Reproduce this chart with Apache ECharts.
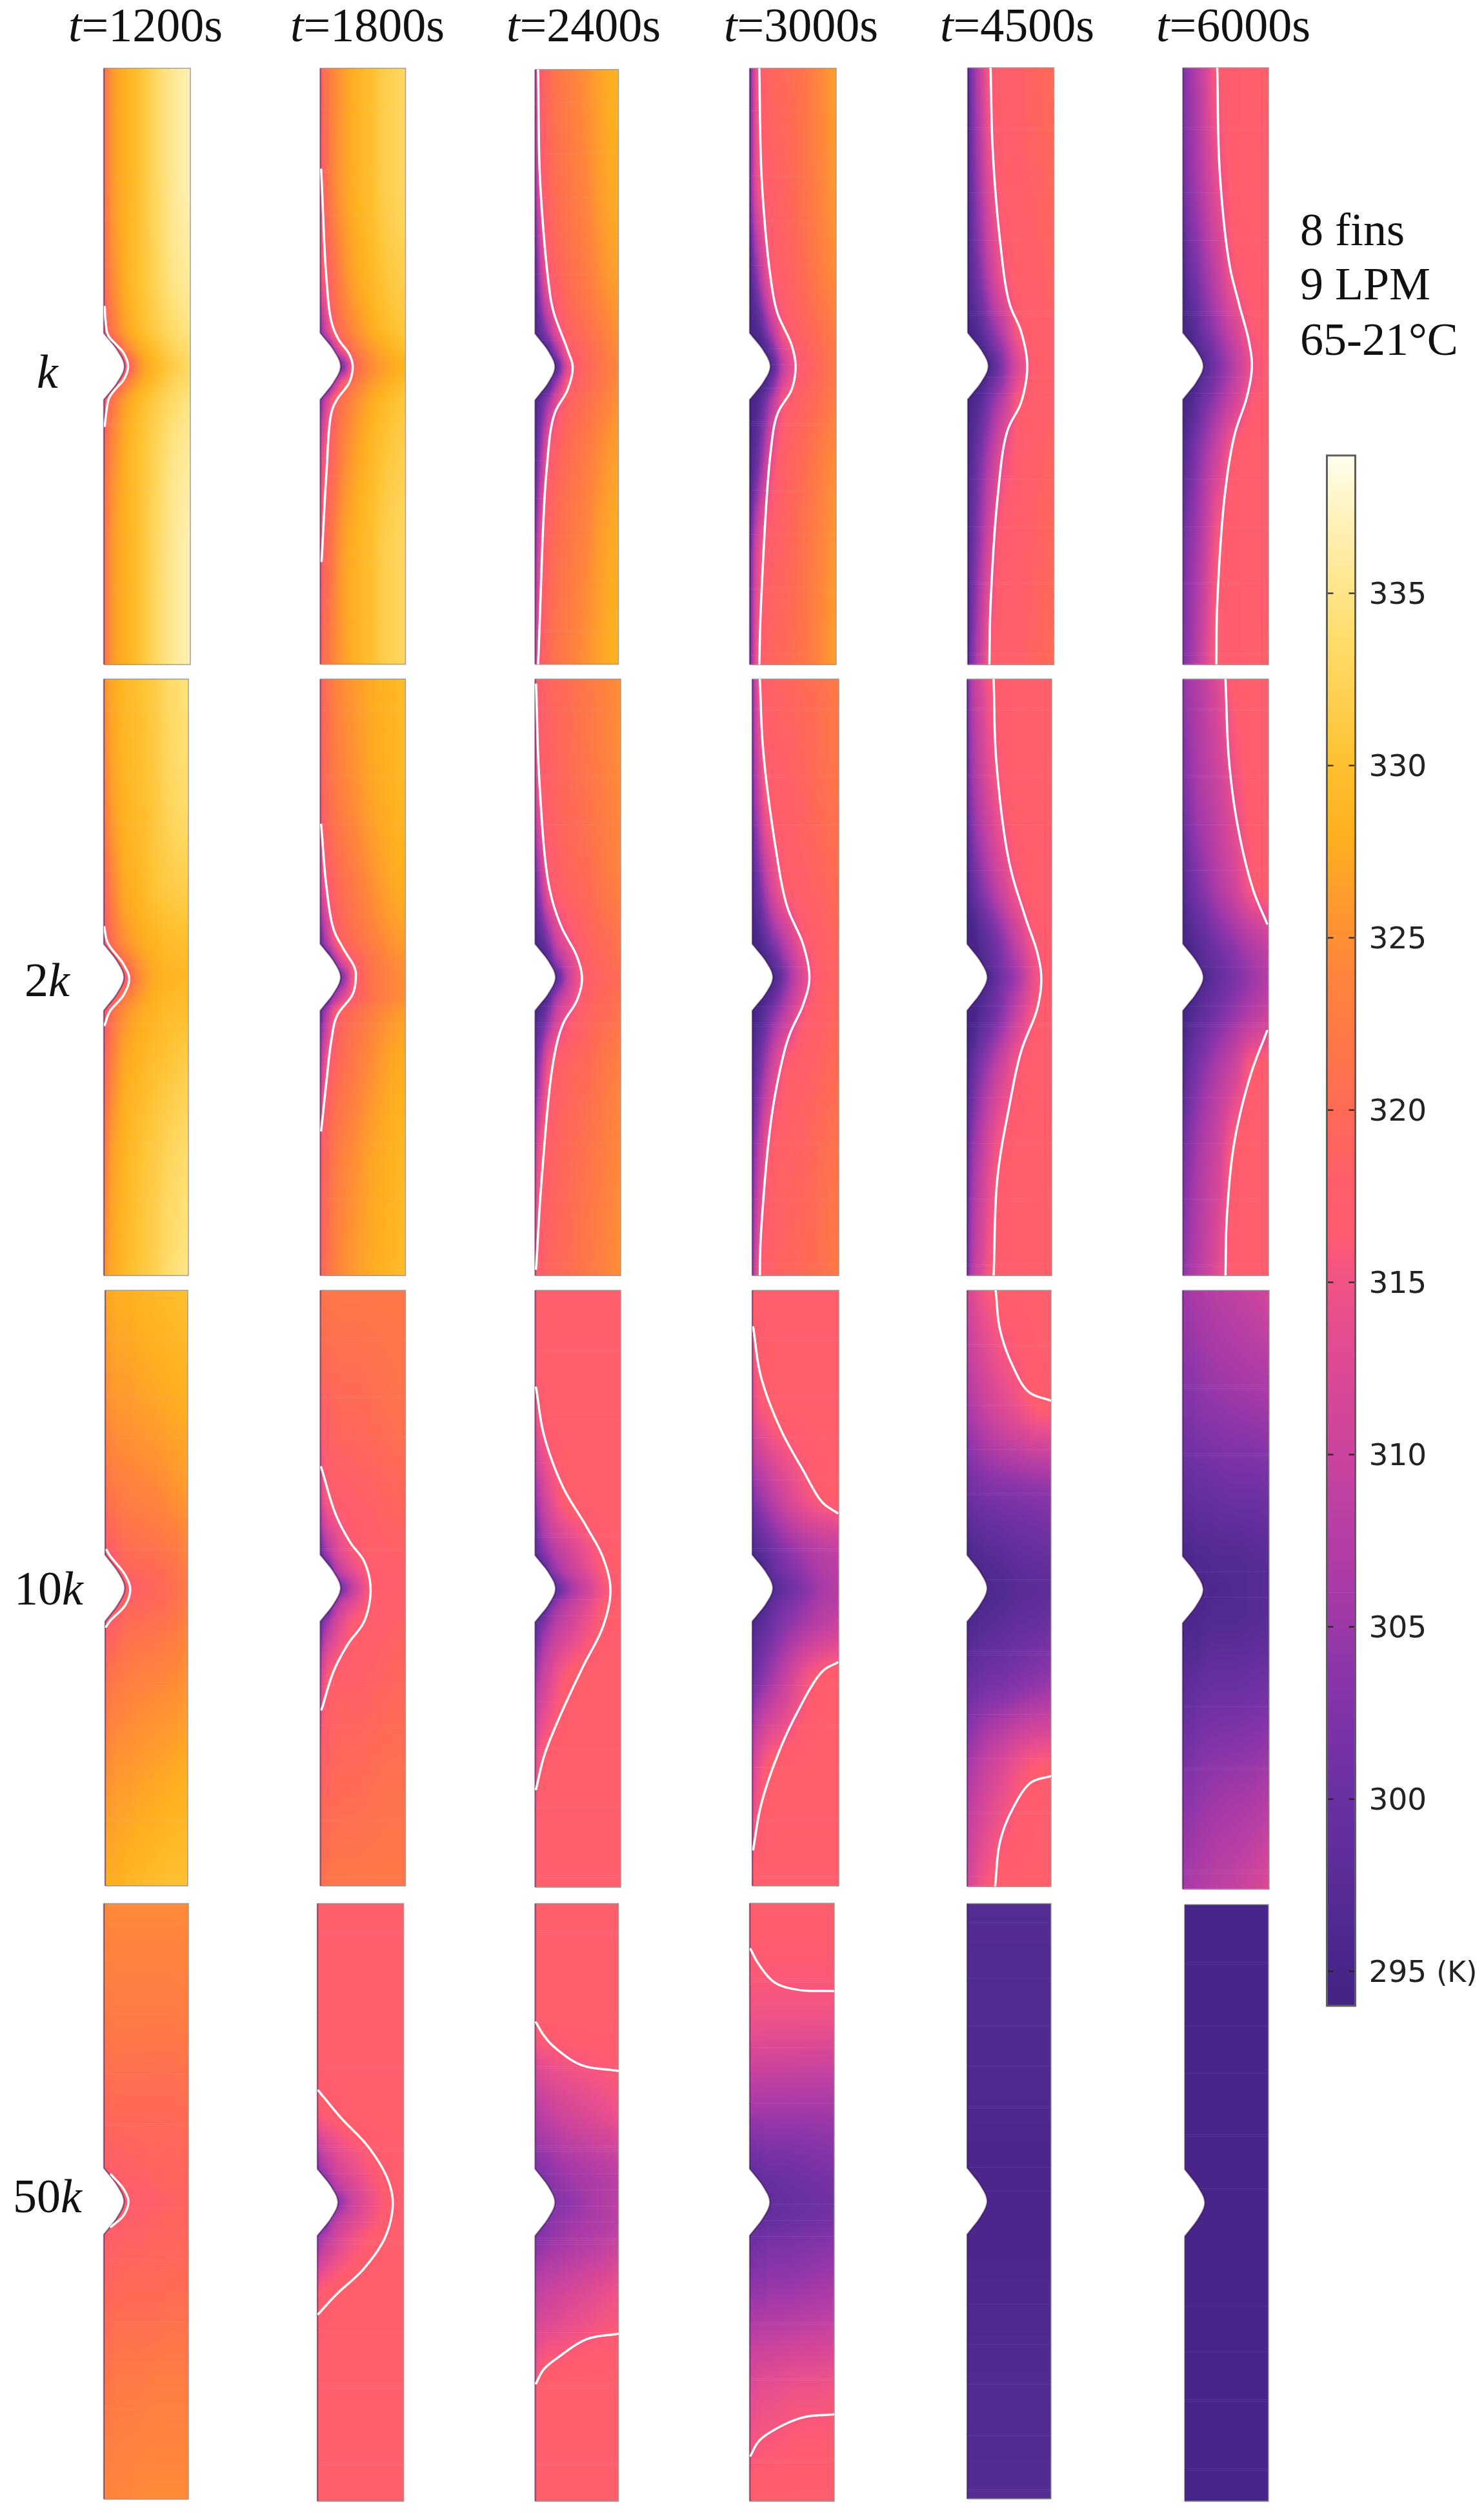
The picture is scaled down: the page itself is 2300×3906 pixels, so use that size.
<!DOCTYPE html>
<html><head><meta charset="utf-8">
<style>html,body{margin:0;padding:0;background:#fff}#c{width:2300px;height:3906px}</style>
<script src="https://cdn.jsdelivr.net/npm/echarts@6/dist/echarts.min.js"></script>
</head><body><div id="c"></div>
<script>
// ---- labels ----
const timeLabels = ['1200','1800','2400','3000','4500','6000'];
const rowLabels = ['k','2k','10k','50k'];
const noteLines = ['8 fins','9 LPM','65-21°C'];
const barTicks = [295,300,305,310,315,320,325,330,335];
// ---- colour scale (K -> colour) ----
const cmapT = [294,295,296.5,298,300,302,304,306,308,310,312,314,315.5,316.5,318,320,322,324,326,328,330,332,334,336,338,339];
const cmapC = ['#452382','#482588','#502b90','#5c2d98','#6a30a0','#7a33a6','#8f36a9','#a83aa8','#b93fa4','#ca449e','#d84896','#e84e8e','#f5557f','#ff5c70','#ff5f68','#ff6a55','#ff7748','#ff853b','#ff9a2e','#ffb020','#ffc030','#ffd050','#ffdf72','#ffea9e','#fff7d0','#fffff0'];
// ---- sampling positions of the temperature tables (% of width, % of height) ----
const X = [0,8,16,25,40,60,80,100];
const Y = [0,18,34,44,47,50,53,56,66,82,100];
// ---- notch outline (% of width, % of height) ----
const notch = [[0,44.4],[4,45.1],[8,45.8],[12,46.5],[15,47.1],[18,47.8],[20.5,48.4],[22.5,49],[23.5,49.5],[24,50],[23.5,50.5],[22.5,51],[20.5,51.6],[18,52.2],[15,52.9],[12,53.5],[8,54.2],[4,54.9],[0,55.6]];

// ---- temperature readings, K ----
const T_k_1200=[[321,325,327,328,330,333,335.5,337],[321,325,327,328,330,333,335.5,337],[320,324,326,328,330,332.5,335,336],[317,321,324,326.5,329,331.5,333.5,335],[317,317,319,323,327,330,332.5,334],[317,317,317,317,325,329,331.5,333.5],[317,317,319,323,327,330,332.5,334],[317,321,324,326.5,329,331.5,333.5,335],[320,324,326,328,330,332.5,335,336],[321,325,327,328,330,333,335.5,337],[321,325,327,328,330,333,335.5,337]];
const T_k_1800=[[319,322,324,326,328,330,332,333],[317,321,324,326,328,330,332,333],[315.5,318,321,324,327,329,331,332],[303,312,318,321,324.5,327.5,329.5,331],[300,300,308,316,322,326,328,330],[300,300,300,302,319,324.5,327,328.5],[300,300,308,316,322,326,328,330],[303,312,318,321,324.5,327.5,329.5,331],[313,317.5,320,323.5,326.5,329,331,332],[317,320,323,326,328,330,332,333],[319,322,324,326,328,330,332,333]];
const T_k_2400=[[312,318,320,321.5,323,325,327,328.5],[307,316.5,319,320.5,322,324,326.5,328],[298,310,316.5,318.5,320.5,322.5,325,327],[296,300,306,313,318.5,320.5,323,325.5],[296,296,298,306,317,319.5,322,325],[296,296,296,298,314,319,321.5,324.5],[296,296,298,306,317,319.5,322,325],[296,300,306,313,318.5,320.5,323,325.5],[298,308,316.5,318.5,320.5,322.5,325,327],[305,316,319,320.5,322,324,326.5,328],[312,318,320,321.5,323,325,327,328.5]];
const T_k_3000=[[301,315,318,319,320,321.5,324,326.5],[302,314,316.8,318,319,321,323.5,326],[296,304,311,316.5,318,320,322.5,325],[295,296,300,307,316,318.5,320.5,323],[295,295,296,301,313,317.5,320,322.5],[295,295,295,297,310,317,319.5,322],[295,295,296,301,313,317.5,320,322.5],[295,296,300,307,316,318.5,320.5,323],[295,300,307,314,318,320,322.5,325],[300,312,316.5,318,319,321,323.5,326],[301,315,318,319,320,321.5,324,326.5]];
const T_k_4500=[[298,305,311,316.5,317.5,318,319,320],[297,303,308,313.5,317,318,318.5,319.5],[296,300,304,309,315,317.5,318,319],[295,296,298,302,308,316.5,317.5,318],[295,295,296,299,305,314.5,317.5,318],[295,295,295,296,303,313,317,318],[295,295,296,299,305,314.5,317.5,318],[295,296,298,302,308,316.5,317.5,318],[296,299,303,307.5,314,317,318,319],[297,302,307,312.5,317,317.5,318.5,319.5],[298,305,311,316.5,317.5,318,319,320]];
const T_k_6000=[[303,305,307.5,311,316.5,317,317.5,318],[301,304,306,309,314,317,317.5,317.5],[296,300,302,305,309.5,316,317,317.5],[295,296,298,301,305,311,316,317],[295,295,296.5,299,303,309,315,317],[295,295,295,297,302,308,314.5,317],[295,295,296.5,299,303,309,315,317],[295,296,298,301,305,311,316,317],[297,300,303,306,311,317,317.5,317.5],[301,304,306,309.5,316,317,317.5,317.5],[303,305,308,312,316.5,317,317.5,318]];
const T_2k_1200=[[325,327,328,329,330,331.5,333.5,334.5],[323,326,327.5,328.5,329.5,331,333,334],[319,323,325.5,327.5,328.5,330.5,331.5,332],[317,320,323,325,327,328.5,329.5,330],[317,317,319,322,325.5,328,329,329.5],[317,317,317,317,324,327.5,328.5,329],[317,317,319,322,325.5,328,329,329.5],[317,320,323,325,327,328.5,329.5,330],[319,323,325.5,327.5,328.5,330,331,332],[322,326,327.5,328.5,330,331.5,333,334],[325,327,328,329,330.5,332,334,335]];
const T_2k_1800=[[319,321,323,324.5,326,327.5,328.5,329.5],[318,320.5,322,323.5,325,327,328,329],[312,316.5,319,320.5,322.5,325,327,328],[300,308,315,318.5,320.5,323,325,326.5],[298,298,305,313,318,321.5,324,325.5],[298,298,298,302,317,321,323.5,325],[298,298,305,311,317.5,321,323.5,325],[300,308,315.5,318.5,320.5,323,325,326.5],[309,316.5,319,320.5,322.5,325,327,328],[318,320,322,323.5,325,327,328,329],[319,321,323,324.5,326,327.5,328.5,329.5]];
const T_2k_2400=[[317,318,319,319.5,320.5,322,323.5,325],[313,317,318,319,320,321.5,323,324.5],[300,309,316,317.5,319,320,322,323.5],[296,298,303,310,315,318.5,320,321.5],[295,295,298,305,312,318,319.5,321],[295,295,295,298,310,317.5,319,320.5],[295,295,298,305,312,318,319.5,321],[296,298,303,310,315,318.5,320,321.5],[300,309,316,317.5,319,320,322,323.5],[312,317,318,319,320,321.5,323,324.5],[317,318,319,319.5,320.5,322,323.5,325]];
const T_2k_3000=[[305,316,318,318.5,319,320,321,322.5],[302,311,316.5,317.5,318,319,320.5,321.5],[297,302,308,313,317,318,319,320.5],[295,296,299,303,309,316,318,319.5],[295,295,296,299,306,314,318,319],[295,295,295,296,304,313,317.5,319],[295,295,296,299,306,314,318,319],[295,296,299,303,309,316,318,319.5],[297,302,307,312,317,318,319,320.5],[302,310,315.5,318,318.5,319,320.5,321.5],[306,316,318,318.5,319,320,321,322.5]];
const T_2k_4500=[[302,309,312,315.5,317,317.5,318,318],[300,306,309,312.5,316,317.5,317.5,318],[296,300,303,306,311,316,317.5,317.5],[295,295,297,299,303,310,316,317.5],[295,295,296,298,302,308,315,317.5],[295,295,295,296,301,306,314.5,317.5],[295,295,296,298,302,308,315,317.5],[295,295,297,299,303,310,316,317.5],[296,300,303,306,311,316,317.5,317.5],[300,306,309,313,316.5,317.5,317.5,318],[302,309,312,315.5,317,317.5,318,318]];
const T_2k_6000=[[304,306,307,309,312.5,317,317.5,317.5],[302,304,306,307.5,310,314.5,317,317.5],[297,300,302,304,307,311,316,317.5],[295,296,297.5,299,301.5,304.5,307.5,310],[295,295,296,298,300,303,306,308.5],[295,295,295,296,299,302,305,307.5],[295,295,296,298,300,303,306,308.5],[295,296,297.5,299,301.5,304.5,307.5,310],[297,300,302,304,307,311,316.5,317.5],[302,304,306,308,311,317,317.5,317.5],[304,306,307.5,309.5,313,317,317.5,317.5]];
const T_10k_1200=[[327,327.5,328,328,328.5,329,329.5,330],[325,325.5,326,326,326.5,327,327.5,328],[321,322,322.5,323,323.5,324,325,326],[317.5,318,319,320,320.5,321,322,323.5],[317,317,318,319,319.5,320,321,323],[317,317,317,317,318.5,319.5,320.5,322.5],[317,317,318,319,319.5,320,321,323],[317.5,318,319,320,320.5,321,322,323.5],[321,322,322.5,323,323.5,324,324.5,325.5],[325,325.5,326,326,326.5,327,327.5,328],[328,328,328,328.5,329,329.5,330,330]];
const T_10k_1800=[[321.5,322,322,322,322,322,322,322],[318.5,319,319.5,320,320,320.5,321,321.5],[312,316.5,317,317.5,318,318.5,319,319.5],[300,306,310,313.5,316,317.5,318,318.5],[298,298,305,310,314,317,317.5,318],[298,298,298,302,310,316.5,317.5,318],[298,298,305,310,314,317,317.5,318],[300,306,310,313.5,316.5,317.5,318,318.5],[312,316.5,317.5,318,318,318.5,319,319.5],[318.5,319,319.5,320,320,320.5,321,321],[321,321.5,322,322,322,322,322,322]];
const T_10k_2400=[[317.5,317.5,317.5,317.5,317.5,317.5,317.5,317.5],[316,317,317.5,317.5,317.5,317.5,317.5,317.5],[305,310,313,315.5,317.5,317.5,317.5,317.5],[298,302,305,308,311,314.5,316.8,317.5],[297,297,301,305,309,313,316.5,317.5],[297,297,297,299.5,305,310.5,315.5,317.5],[297,297,301,305,309,313,316.5,317.5],[298,302,305,308,311,314.5,316.8,317.5],[306,310,312.5,315,317,317.5,317.5,317.5],[315,317,317.5,317.5,317.5,317.5,317.5,317.5],[317.5,317.5,317.5,317.5,317.5,317.5,317.5,317.5]];
const T_10k_3000=[[317.5,317.5,317.5,317.5,317.5,317.5,317.5,317.5],[313,316,316.5,317.5,317.5,317.5,317.5,317.5],[303,305,307,309,312,315,316.7,317.5],[296,297.5,299,301,303.5,306,308,309],[295,295,297,299.5,302,304.5,307,308],[295,295,295,297,300,303,306,307.5],[295,295,297,299.5,302,304.5,307,308],[296,297.5,299,301,303.5,306,308.5,310],[301,303,305,307,310.5,315,317,317.5],[312,315,316.8,317.5,317.5,317.5,317.5,317.5],[317.5,317.5,317.5,317.5,317.5,317.5,317.5,317.5]];
const T_10k_4500=[[312,313,315,316,317.5,317.5,317.5,317.5],[307,308,309.5,311,313,315,316.7,317.2],[300,301,301.5,302,302.5,303,303.5,304],[296,296.5,297,297.5,298,299,299.5,300],[295.5,295.5,296,296.5,297,298,298.5,299],[295.5,295.5,295.5,296,296.5,297.5,298,298.5],[295.5,295.5,296,296.5,297,298,298.5,299.5],[296,296.5,297,297.5,298,299,299.5,300.5],[300,300.5,301,301.5,302,303,304,305],[307,308,309.5,311,313,315.5,316.8,317.2],[312,313,315,316,317.5,317.5,317.5,317.5]];
const T_10k_6000=[[305.5,306,306.5,307,308,309,310,311],[303,303,303.5,304,304.5,305,305.5,306],[299,299,299.5,299.5,300,300.5,300.5,301],[296,296,296.5,296.5,297,297,297.5,298],[295.5,295.5,296,296,296.5,296.5,297,297.5],[295.5,295.5,295.5,296,296,296.5,297,297.5],[295.5,295.5,296,296,296.5,296.5,297,297.5],[295.5,296,296,296.5,297,297,297.5,298],[298,298.5,299,299.5,300,300,300.5,301],[303,303,303.5,304,304.5,305,305.5,306.5],[306,306.5,307,307.5,308.5,309.5,311,312.5]];
const T_50k_1200=[[324.5,324.5,324.5,324.5,324.5,324.5,324.5,324.5],[322.5,322.5,322.5,322.5,322.5,322.5,322.5,323],[319.5,320,320,320,320,320,320,320.5],[317.5,318,318,318.5,318.5,319,319,319.5],[317,317,317.5,318,318,318.5,319,319],[317,317,317,317,317.5,318,318.5,319],[317,317,317.5,318,318,318.5,319,319],[317.5,318,318,318.5,318.5,319,319,319.5],[319.5,319.5,320,320,320,320,320.5,320.5],[322,322,322.5,322.5,322.5,323,323,323],[324,324,324,324,324.5,324.5,324.5,324.5]];
const T_50k_1800=[[317.5,317.5,317.5,317.5,317.5,317.5,317.5,317.5],[317.5,317.5,317.5,317.5,317.5,317.5,317.5,317.5],[316.5,316.8,317,317.2,317.5,317.5,317.5,317.5],[304,307,309.5,312,314,316,316.9,317.5],[302,302,306,309,312,315,316.8,317.5],[302,302,302,304,310,314,316.6,317.5],[302,302,306,309,312,315,316.8,317.5],[304,307,309.5,312,314.5,316.5,317.2,317.5],[316.5,316.9,317.2,317.5,317.5,317.5,317.5,317.5],[317.5,317.5,317.5,317.5,317.5,317.5,317.5,317.5],[317.5,317.5,317.5,317.5,317.5,317.5,317.5,317.5]];
const T_50k_2400=[[317.5,317.5,317.5,317.5,317.5,317.5,317.5,317.5],[317.5,317.5,317.5,317.5,317.5,317.5,317.5,317.5],[308,309,310,311,312,313,314,315],[303,303.5,304,305,306,307,308,309],[302,302,303,304,305,306,307,308],[302,302,302,303,304,305.5,307,308],[302,302,303,304,305,306,307,308],[303,303.5,304.5,305,306,307,308,309.5],[309,310,310.5,311,312,313,314,315],[316.5,317,317.5,317.5,317.5,317.5,317.5,317.5],[317.5,317.5,317.5,317.5,317.5,317.5,317.5,317.5]];
const T_50k_3000=[[317.5,317.5,317.5,317.5,317.5,317.5,317.5,317.5],[315,315,315,315,315,315,315,315],[306,306,306,306,306,306,306,306],[299.5,300,300.5,301,301,301.5,302,302.5],[298.5,298.5,299,299.5,300,300.5,301,301.5],[298.5,298.5,298.5,299,299.5,300,300.5,301],[298.5,298.5,299,299.5,300,300.5,301,301.5],[300,300.5,301,301.5,301.5,302,302.5,303],[304.5,305,305,305.5,305.5,306,306.5,307],[313,313.5,314,314,314.5,315,315,315.5],[317.5,317.5,317.5,317.5,317.5,317.5,317.5,317.5]];
const T_50k_4500=[[297,297,297,297,297,297,297,297],[296.5,296.5,296.5,296.5,296.5,296.5,296.5,296.5],[296,296,296,296,296,296,296,296],[295.5,295.5,295.5,295.5,295.5,295.5,295.5,295.5],[295.5,295.5,295.5,295.5,295.5,295.5,295.5,295.5],[295.5,295.5,295.5,295.5,295.5,295.5,295.5,295.5],[295.5,295.5,295.5,295.5,295.5,295.5,295.5,295.5],[295.5,295.5,295.5,295.5,295.5,295.5,295.5,295.5],[296,296,296,296,296,296,296,296],[296.5,296.5,296.5,296.5,296.5,296.5,296.5,296.5],[297,297,297,297,297,297,297,297]];
const T_50k_6000=[[295,295,295,295,295,295,295,295],[295,295,295,295,295,295,295,295],[295,295,295,295,295,295,295,295],[295,295,295,295,295,295,295,295],[295,295,295,295,295,295,295,295],[295,295,295,295,295,295,295,295],[295,295,295,295,295,295,295,295],[295,295,295,295,295,295,295,295],[295,295,295,295,295,295,295,295],[295,295,295,295,295,295,295,295],[295,295,295,295,295,295,295,295]];

// ---- white isotherm traces (% of width, % of height) ----
const C_k_1200=[[[1,40],[2,42.5],[5,44.8],[14,46.3],[23,47.8],[28,50],[23,52.2],[14,53.7],[6,55.3],[3,57.5],[1,60]]];
const C_k_1800=[[[1,17],[7,35],[13,42.5],[21,45.4],[34,48],[38,50],[34,52.7],[19.5,55.6],[13,57.8],[7,68.3],[1.5,82.7]]];
const C_k_2400=[[[3.5,0],[6,19],[16.5,36.4],[22,40.7],[39,47.2],[45,50],[39,53.8],[23,58],[13.6,67.5],[3.5,100]]];
const C_k_3000=[[[11,0],[14,19],[24,35],[32,41],[48.6,46.5],[53,50],[48.6,53.8],[32,58],[24,64.6],[13,90],[11,100]]];
const C_k_4500=[[[26.4,0],[29,14],[37.4,29],[48,39.3],[62,44.3],[69,50],[62,56],[45.6,61],[34.6,72],[26.4,90],[25,100]]];
const C_k_6000=[[[40,0],[43,17.5],[54,32.7],[65,39.3],[77,45.8],[80.6,50],[75,55],[60,61.7],[48.6,72],[40,90],[39,100]]];
const C_2k_1200=[[[0.5,41.6],[4.5,44.2],[23.6,47.9],[30,50.2],[23.6,52.9],[6.7,55.8],[1,58]]];
const C_2k_1800=[[[1,24.4],[7,34.6],[15.5,41.9],[27,45.2],[40.5,48.5],[41.6,50.2],[38,52.8],[19.4,56.5],[13,60.5],[7,67.7],[1,75.7]]];
const C_2k_2400=[[[1,0.9],[5,17.4],[16,34.6],[30,41.3],[49,46.6],[54.7,50.2],[49,53.8],[32.6,57.8],[21.5,63.8],[7.7,83.6],[1,98.9]]];
const C_2k_3000=[[[8.7,0],[12.6,12],[26,27.4],[40,38],[59,44.6],[66,50.2],[59,54.5],[42.6,59.8],[31.7,65.8],[20.8,75],[9.8,93.6],[8.7,100]]];
const C_2k_4500=[[[31.3,0],[34.6,14],[49.7,30.7],[69,40],[83,45.9],[87.7,50.2],[83,55.2],[63.7,62.5],[49.7,71.7],[35.8,83.6],[31.3,100]]];
const C_2k_6000=[[[49.7,0],[54,14],[65,25.4],[82,35.3],[98.3,41]],[[98.3,59],[79,66.4],[60,77.7],[51.4,90],[49.7,100]]];
const C_10k_1200=[[[1.7,43.6],[6,44.6],[24.6,47.9],[30.3,50.2],[24.6,52.8],[6,55.5],[1,56.5]]];
const C_10k_1800=[[[1,29.7],[18,37.6],[35,42.3],[51.7,45.6],[59,50.2],[51.7,55.5],[32,59.5],[15.5,64],[1.5,70.4]]];
const C_10k_2400=[[[1,16.3],[10.5,24.4],[32.6,33],[60,39.6],[79.6,44.9],[88,50.2],[79.6,56.2],[54.7,63.4],[27,72],[10.5,78],[1,83.6]]];
const C_10k_3000=[[[1,6.2],[9.8,14.4],[31.7,23],[59,30.3],[81,35.6],[98.4,37.4]],[[98.4,62.5],[81,64],[48,72],[26,79.3],[9.8,86.6],[1,93.9]]];
const C_10k_4500=[[[34,0],[39,6.5],[53.7,12.5],[73,17],[99.4,18.5]],[[99.4,81.5],[75.7,82.6],[53,87.3],[39,92.6],[33.3,100]]];
const C_10k_6000=[];
const C_50k_1200=[[[8.4,45.5],[23.6,48],[29,50],[23.6,52.3],[8.4,54.3]]];
const C_50k_1800=[[[1,31.3],[27,35.8],[60,40.9],[82,46.3],[87.4,50.3],[79,55.7],[54.4,61],[21.4,65.5],[1,68.7]]];
const C_50k_2400=[[[1,19.9],[10,22],[22,23.9],[55,27],[99.4,28]],[[99.4,72],[62,72.9],[28,75.9],[10,78],[1,80.3]]];
const C_50k_3000=[[[1,7.7],[10.6,10.2],[30,13.3],[58,14.5],[99.4,14.7]],[[99.4,85.5],[63,86],[30,88],[10.6,90],[1,92.4]]];
const C_50k_4500=[];
const C_50k_6000=[];

const fields=[[T_k_1200,T_k_1800,T_k_2400,T_k_3000,T_k_4500,T_k_6000],[T_2k_1200,T_2k_1800,T_2k_2400,T_2k_3000,T_2k_4500,T_2k_6000],[T_10k_1200,T_10k_1800,T_10k_2400,T_10k_3000,T_10k_4500,T_10k_6000],[T_50k_1200,T_50k_1800,T_50k_2400,T_50k_3000,T_50k_4500,T_50k_6000]];
const contours=[[C_k_1200,C_k_1800,C_k_2400,C_k_3000,C_k_4500,C_k_6000],[C_2k_1200,C_2k_1800,C_2k_2400,C_2k_3000,C_2k_4500,C_2k_6000],[C_10k_1200,C_10k_1800,C_10k_2400,C_10k_3000,C_10k_4500,C_10k_6000],[C_50k_1200,C_50k_1800,C_50k_2400,C_50k_3000,C_50k_4500,C_50k_6000]];

// ---- layout (pixels) ----
const panelL=[[161,496.5,829.5,1162,1500,1833.5],[161,496.5,829.5,1166,1499,1833.5],[163,496.5,829.5,1166,1499,1833],[161,492,829.5,1162,1499,1836.5]];
const panelR=[[295,628.5,958.5,1296,1633.5,1966],[292,628.5,962,1300,1630,1966],[291,628.5,962,1300,1629,1967],[292,625.6,958.5,1293,1629,1966]];
const panelT=[[105.8,105.8,107.8,105.8,105,105],[1052.6,1052.6,1052.6,1052.6,1052.6,1052.6],[2000,2000,2000,2000,2000,2000],[2950.5,2950.5,2950.5,2950,2950.5,2952]];
const panelB=[[1030,1029.5,1029.5,1030,1030,1030],[1977,1977,1977,1977,1977,1977],[2923,2923,2925,2923,2924,2928],[3873.6,3876.7,3876.7,3876.7,3873,3876.7]];
const titleLeft=[106,450,785,1122,1457,1792];
const rowLeft=[57,38,22,20];
const rowTop=[545,1488,2431,3373];
const noteTop=[325,409,495];
const serif='"Liberation Serif"';

function hex(c){return [parseInt(c.slice(1,3),16),parseInt(c.slice(3,5),16),parseInt(c.slice(5,7),16)];}
const cmapRGB=cmapC.map(hex);
function colorOf(t){
  if(t<=cmapT[0])return cmapC[0];
  for(let i=1;i<cmapT.length;i++){if(t<=cmapT[i]){const f=(t-cmapT[i-1])/(cmapT[i]-cmapT[i-1]);const a=cmapRGB[i-1],b=cmapRGB[i];
    return 'rgb('+Math.round(a[0]+(b[0]-a[0])*f)+','+Math.round(a[1]+(b[1]-a[1])*f)+','+Math.round(a[2]+(b[2]-a[2])*f)+')';}}
  return cmapC[cmapC.length-1];
}
// shape-preserving drawing interpolation between the read temperatures
function slope(xs,ys,i){
  const n=xs.length;
  if(i===0)return (ys[1]-ys[0])/(xs[1]-xs[0]);
  if(i===n-1)return (ys[n-1]-ys[n-2])/(xs[n-1]-xs[n-2]);
  const a=(ys[i]-ys[i-1])/(xs[i]-xs[i-1]),b=(ys[i+1]-ys[i])/(xs[i+1]-xs[i]);
  return a*b<=0?0:2*a*b/(a+b);
}
function smoothAt(xs,ys,x){
  let i=0;while(i<xs.length-2&&x>xs[i+1])i++;
  const h=xs[i+1]-xs[i],t=(x-xs[i])/h,m0=slope(xs,ys,i),m1=slope(xs,ys,i+1);
  const t2=t*t,t3=t2*t;
  return (2*t3-3*t2+1)*ys[i]+(t3-2*t2+t)*h*m0+(-2*t3+3*t2)*ys[i+1]+(t3-t2)*h*m1;
}
function fieldRenderer(tab){
  return function(params,api){
    const j=api.value(2);
    const p0=api.coord([0,Y[j]]),p1=api.coord([100,Y[j+1]]);
    const w=p1[0]-p0[0],h=p1[1]-p0[1];
    const n=Math.max(1,Math.ceil(h/3)),children=[];
    for(let k=0;k<n;k++){
      const yy=Y[j]+(k+0.5)/n*(Y[j+1]-Y[j]);
      const vals=X.map((_,c)=>smoothAt(Y,tab.map(r=>r[c]),yy));
      const stops=[];
      for(let s=0;s<=40;s++){stops.push({offset:s/40,color:colorOf(smoothAt(X,vals,s*2.5))});}
      children.push({type:'rect',silent:true,shape:{x:p0[0],y:p0[1]+h*k/n,width:w,height:h/n+0.7},
        style:{fill:new echarts.graphic.LinearGradient(0,0,1,0,stops)}});
    }
    return {type:'group',children};
  };
}
function overlayRenderer(params,api){
  const pts=notch.map(p=>api.coord(p));
  const tl=api.coord([0,0]),tr=api.coord([100,0]),br=api.coord([100,100]),bl=api.coord([0,100]);
  return {type:'group',children:[
    {type:'polyline',silent:true,shape:{points:[tl,tr,br,bl]},style:{fill:null,stroke:'rgba(150,150,150,0.85)',lineWidth:1.6}},
    {type:'polygon',silent:true,shape:{points:pts.concat([[pts[pts.length-1][0]-3,pts[pts.length-1][1]],[pts[0][0]-3,pts[0][1]]])},style:{fill:'#ffffff'}},
    {type:'polyline',silent:true,shape:{points:[tl].concat(pts,[bl])},style:{fill:null,stroke:'rgba(45,0,65,0.5)',lineWidth:2.4}}
  ]};
}
// white isotherm: a centripetal spline through the read points, drawn once per trace
function traceRenderer(line){
  return function(params,api){
    if(params.dataIndex!==0)return null;
    const p=line.map(q=>api.coord(q)),n=p.length,out=[p[0]];
    const at=i=>i<0?[2*p[0][0]-p[1][0],2*p[0][1]-p[1][1]]:i>=n?[2*p[n-1][0]-p[n-2][0],2*p[n-1][1]-p[n-2][1]]:p[i];
    const lerp=(a,b,ta,tb,t)=>tb===ta?a:[a[0]+(b[0]-a[0])*(t-ta)/(tb-ta),a[1]+(b[1]-a[1])*(t-ta)/(tb-ta)];
    for(let i=0;i<n-1;i++){
      const P0=at(i-1),P1=at(i),P2=at(i+1),P3=at(i+2);
      const d=(a,b)=>Math.sqrt(Math.hypot(b[0]-a[0],b[1]-a[1]));
      const t0=0,t1=t0+d(P0,P1),t2=t1+d(P1,P2),t3=t2+d(P2,P3);
      for(let s=1;s<=14;s++){
        const t=t1+(t2-t1)*s/14;
        const A1=lerp(P0,P1,t0,t1,t),A2=lerp(P1,P2,t1,t2,t),A3=lerp(P2,P3,t2,t3,t);
        const B1=lerp(A1,A2,t0,t2,t),B2=lerp(A2,A3,t1,t3,t);
        out.push(lerp(B1,B2,t1,t2,t));
      }
    }
    return {type:'polyline',silent:true,shape:{points:out},style:{fill:null,stroke:'#ffffff',lineWidth:3.5,lineJoin:'round',lineCap:'round'}};
  };
}
function barRenderer(params,api){
  const i=api.value(2);
  const a=api.coord([0,cmapT[i]]),b=api.coord([1,cmapT[i+1]]);
  return {type:'rect',silent:true,shape:{x:a[0],y:b[1],width:b[0]-a[0],height:a[1]-b[1]+0.6},
    style:{fill:new echarts.graphic.LinearGradient(0,1,0,0,[{offset:0,color:cmapC[i]},{offset:1,color:cmapC[i+1]}])}};
}
function barTickRenderer(params,api){
  const a=api.coord([0,api.value(1)]),b=api.coord([1,api.value(1)]);
  const st={stroke:'rgba(40,30,30,0.85)',lineWidth:2.5};
  return {type:'group',children:[
    {type:'line',silent:true,shape:{x1:a[0],y1:a[1],x2:a[0]+10,y2:a[1]},style:st},
    {type:'line',silent:true,shape:{x1:b[0]-10,y1:b[1],x2:b[0],y2:b[1]},style:st}
  ]};
}

const grids=[],xAxes=[],yAxes=[],series=[],titles=[];
fields.forEach((row,r)=>row.forEach((tab,c)=>{
  const g=grids.length;
  grids.push({left:panelL[r][c],top:panelT[r][c],width:panelR[r][c]-panelL[r][c],height:panelB[r][c]-panelT[r][c]});
  xAxes.push({type:'value',gridIndex:g,min:0,max:100,show:false});
  yAxes.push({type:'value',gridIndex:g,min:0,max:100,inverse:true,show:false});
  series.push({type:'custom',xAxisIndex:g,yAxisIndex:g,z:1,silent:true,clip:false,renderItem:fieldRenderer(tab),encode:{x:0,y:1},
    data:Y.slice(0,-1).map((y,j)=>[0,y,j])});
  series.push({type:'custom',xAxisIndex:g,yAxisIndex:g,z:2,silent:true,clip:false,renderItem:overlayRenderer,encode:{x:0,y:1},data:[[0,50]]});
  contours[r][c].forEach(line=>series.push({type:'custom',xAxisIndex:g,yAxisIndex:g,z:3,silent:true,clip:true,renderItem:traceRenderer(line),encode:{x:0,y:1},data:line}));
}));
// colour bar
const b=grids.length;
grids.push({left:2056.5,top:706,width:44,height:2403,show:true,borderColor:'#5e5e5e',borderWidth:3,backgroundColor:'transparent',z:5});
xAxes.push({type:'value',gridIndex:b,min:0,max:1,show:false});
yAxes.push({type:'value',gridIndex:b,min:294,max:339,position:'right',axisLine:{show:false},splitLine:{show:false},axisTick:{show:false},
  axisLabel:{show:true,margin:21,customValues:barTicks,color:'#222',fontFamily:'"DejaVu Sans"',fontSize:47,padding:[9,0,0,0],
    formatter:v=>v===295?'295 {u|(K)}':String(v),rich:{u:{fontFamily:'"DejaVu Sans"',fontSize:44,color:'#222',padding:[0,0,0,0]}}}});
series.push({type:'custom',xAxisIndex:b,yAxisIndex:b,z:1,silent:true,clip:false,renderItem:barRenderer,encode:{x:0,y:1},
  data:cmapT.slice(0,-1).map((t,i)=>[0,t,i])});
series.push({type:'custom',xAxisIndex:b,yAxisIndex:b,z:2,silent:true,clip:false,renderItem:barTickRenderer,encode:{x:0,y:1},
  data:barTicks.map(t=>[0,t])});

const txt=(text,left,top,size)=>({text,left,top,padding:0,textStyle:{fontFamily:serif,fontWeight:'normal',fontSize:size,color:'#111',
  rich:{i:{fontFamily:serif,fontStyle:'italic',fontSize:size,color:'#111'}}}});
timeLabels.forEach((t,i)=>titles.push(txt('{i|t}='+t+'s',titleLeft[i],8,74)));
rowLabels.forEach((t,i)=>titles.push(txt(t.replace('k','{i|k}'),rowLeft[i],rowTop[i],74)));
noteLines.forEach((t,i)=>titles.push(txt(t,2015,noteTop[i],72)));

const chart=echarts.init(document.getElementById('c'),null,{renderer:'canvas',width:2300,height:3906});
chart.setOption({animation:false,backgroundColor:'#ffffff',title:titles,grid:grids,xAxis:xAxes,yAxis:yAxes,series,tooltip:{show:false}});
</script></body></html>
